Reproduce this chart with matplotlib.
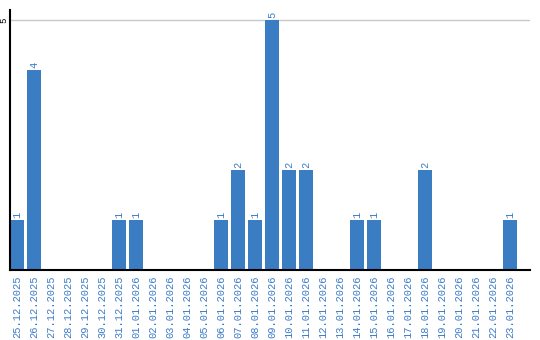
import matplotlib
matplotlib.use("Agg")
import matplotlib.pyplot as plt

dates = [
    "25.12.2025", "26.12.2025", "27.12.2025", "28.12.2025", "29.12.2025",
    "30.12.2025", "31.12.2025", "01.01.2026", "02.01.2026", "03.01.2026",
    "04.01.2026", "05.01.2026", "06.01.2026", "07.01.2026", "08.01.2026",
    "09.01.2026", "10.01.2026", "11.01.2026", "12.01.2026", "13.01.2026",
    "14.01.2026", "15.01.2026", "16.01.2026", "17.01.2026", "18.01.2026",
    "19.01.2026", "20.01.2026", "21.01.2026", "22.01.2026", "23.01.2026",
]
counts = [1, 4, 0, 0, 0, 0, 1, 1, 0, 0,
          0, 0, 1, 2, 1, 5, 2, 2, 0, 0,
          1, 1, 0, 0, 2, 0, 0, 0, 0, 1]
y_ticks = [5]

BAR = "#3b7dc3"
LABEL = "#3a7bc8"
MONO = "Liberation Mono"

fig = plt.figure(figsize=(5.4, 3.4), dpi=100)
ax = fig.add_axes([10 / 540, 70 / 340, 520 / 540, 260 / 340])

x = list(range(len(dates)))
ax.bar(x, counts, width=14 / 17, color=BAR, zorder=2)

for xi, v in zip(x, counts):
    if v > 0:
        ax.text(xi, v + 0.04, str(v), rotation=90, ha="center", va="bottom",
                color=LABEL, fontsize=7.5, family=MONO)

ax.set_xlim(-7 / 17, -7 / 17 + 520 / 17)
ax.set_ylim(0, 5.2)

ax.set_xticks(x)
ax.set_xticklabels(dates, rotation=90, color=LABEL, fontsize=7.5, family=MONO)
ax.tick_params(axis="x", length=0, pad=4)

ax.set_yticks(y_ticks)
ax.set_yticklabels([str(t) for t in y_ticks], rotation=90, va="center",
                   fontsize=6.5, family=MONO)
ax.tick_params(axis="y", length=0, pad=1.5)
ax.grid(axis="y", color="#c8c8c8", linewidth=1, zorder=0)

for s in ("top", "right"):
    ax.spines[s].set_visible(False)
ax.spines["left"].set_linewidth(1.5)
ax.spines["bottom"].set_linewidth(1.5)

fig.savefig("out.png", dpi=100)
